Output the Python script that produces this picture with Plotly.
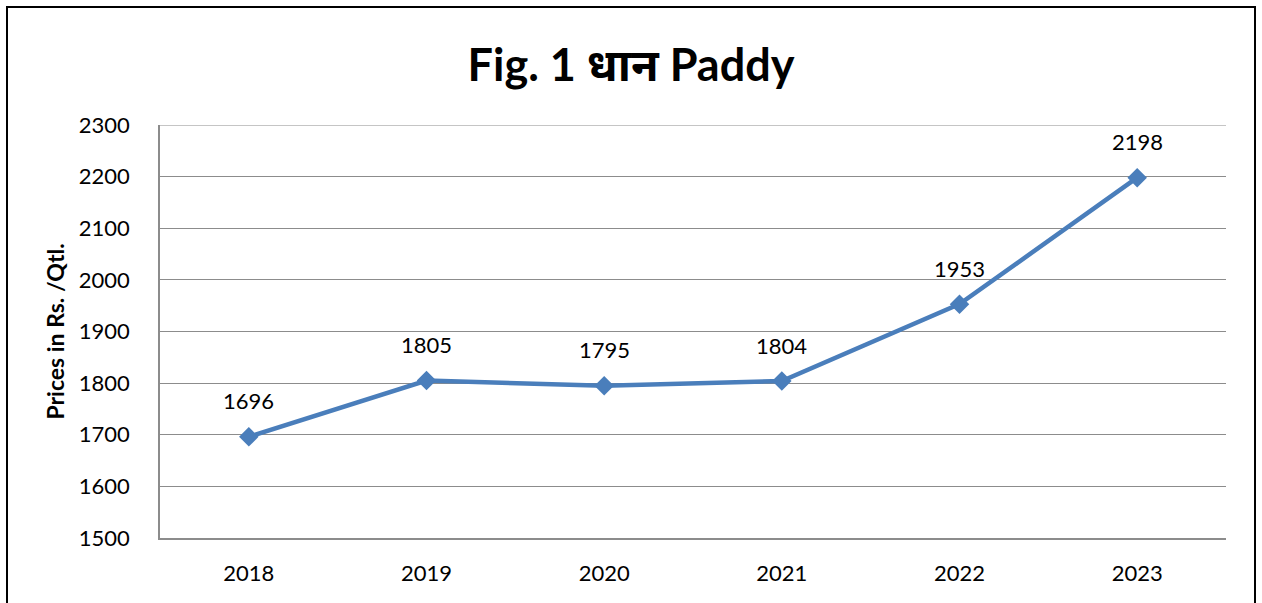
import plotly.graph_objects as go

years = ["2018", "2019", "2020", "2021", "2022", "2023"]
prices = [1696, 1805, 1795, 1804, 1953, 2198]
y_ticks = [1500, 1600, 1700, 1800, 1900, 2000, 2100, 2200, 2300]

FONT = "Lato, 'Noto Sans', 'DejaVu Sans', sans-serif"
LINE_BLUE = "#4A7EBB"
GRID = "#8C8C8C"

fig = go.Figure()
fig.add_trace(go.Scatter(
    x=years, y=prices, mode="lines+markers",
    line=dict(color=LINE_BLUE, width=4.5),
    marker=dict(symbol="diamond", size=15, color=LINE_BLUE),
    hoverinfo="x+y", showlegend=False,
))

for i, p in enumerate(prices):
    fig.add_annotation(x=i, y=p, xref="x", yref="y", text=str(p),
                       showarrow=False, yshift=36,
                       font=dict(family=FONT, size=22, color="#000000"))

W, H = 1262, 603
L, R, T, B = 160, 36, 125, 65
pw, ph = W - L - R, H - T - B

def px_x(px):
    return (px - L) / pw

def px_y(py):
    return (H - B - py) / ph

# top gridline (culled by plotly at range edge)
fig.add_shape(type="line", xref="paper", yref="y", x0=0, x1=1,
              y0=y_ticks[-1], y1=y_ticks[-1], line=dict(color=GRID, width=1),
              layer="below")

fig.add_shape(type="rect", xref="paper", yref="paper",
              x0=px_x(7), x1=px_x(1255), y0=px_y(615), y1=px_y(7),
              line=dict(color="#000000", width=2), fillcolor="rgba(0,0,0,0)")

fig.update_layout(
    width=W, height=H,
    margin=dict(l=L, r=R, t=T, b=B),
    paper_bgcolor="white", plot_bgcolor="white",
    font=dict(family=FONT, color="#000000"),
    title=dict(text="<b>Fig. 1 धान Paddy</b>", x=0.5, xref="container",
               xanchor="center", y=1 - 65 / H, yanchor="middle",
               font=dict(family=FONT, size=45, color="#000000")),
    xaxis=dict(type="category", range=[-0.5, 5.5], showgrid=False,
               showline=True, linecolor=GRID, linewidth=1.5,
               ticks="", zeroline=False,
               tickfont=dict(family=FONT, size=22, color="#000000"),
               ticklabelstandoff=15),
    yaxis=dict(range=[1500, 2300], tickvals=y_ticks, showgrid=True,
               gridcolor=GRID, gridwidth=1, showline=True,
               linecolor=GRID, linewidth=1.5, ticks="", zeroline=False,
               tickfont=dict(family=FONT, size=22, color="#000000"),
               ticklabelstandoff=24,
               title=dict(text="<b>Prices in Rs. /Qtl.</b>", standoff=8,
                          font=dict(family=FONT, size=23, color="#000000"))),
)

fig.write_html("out.html", config={"displayModeBar": False},
               post_script="document.body.style.margin='0';document.body.style.padding='0';")
